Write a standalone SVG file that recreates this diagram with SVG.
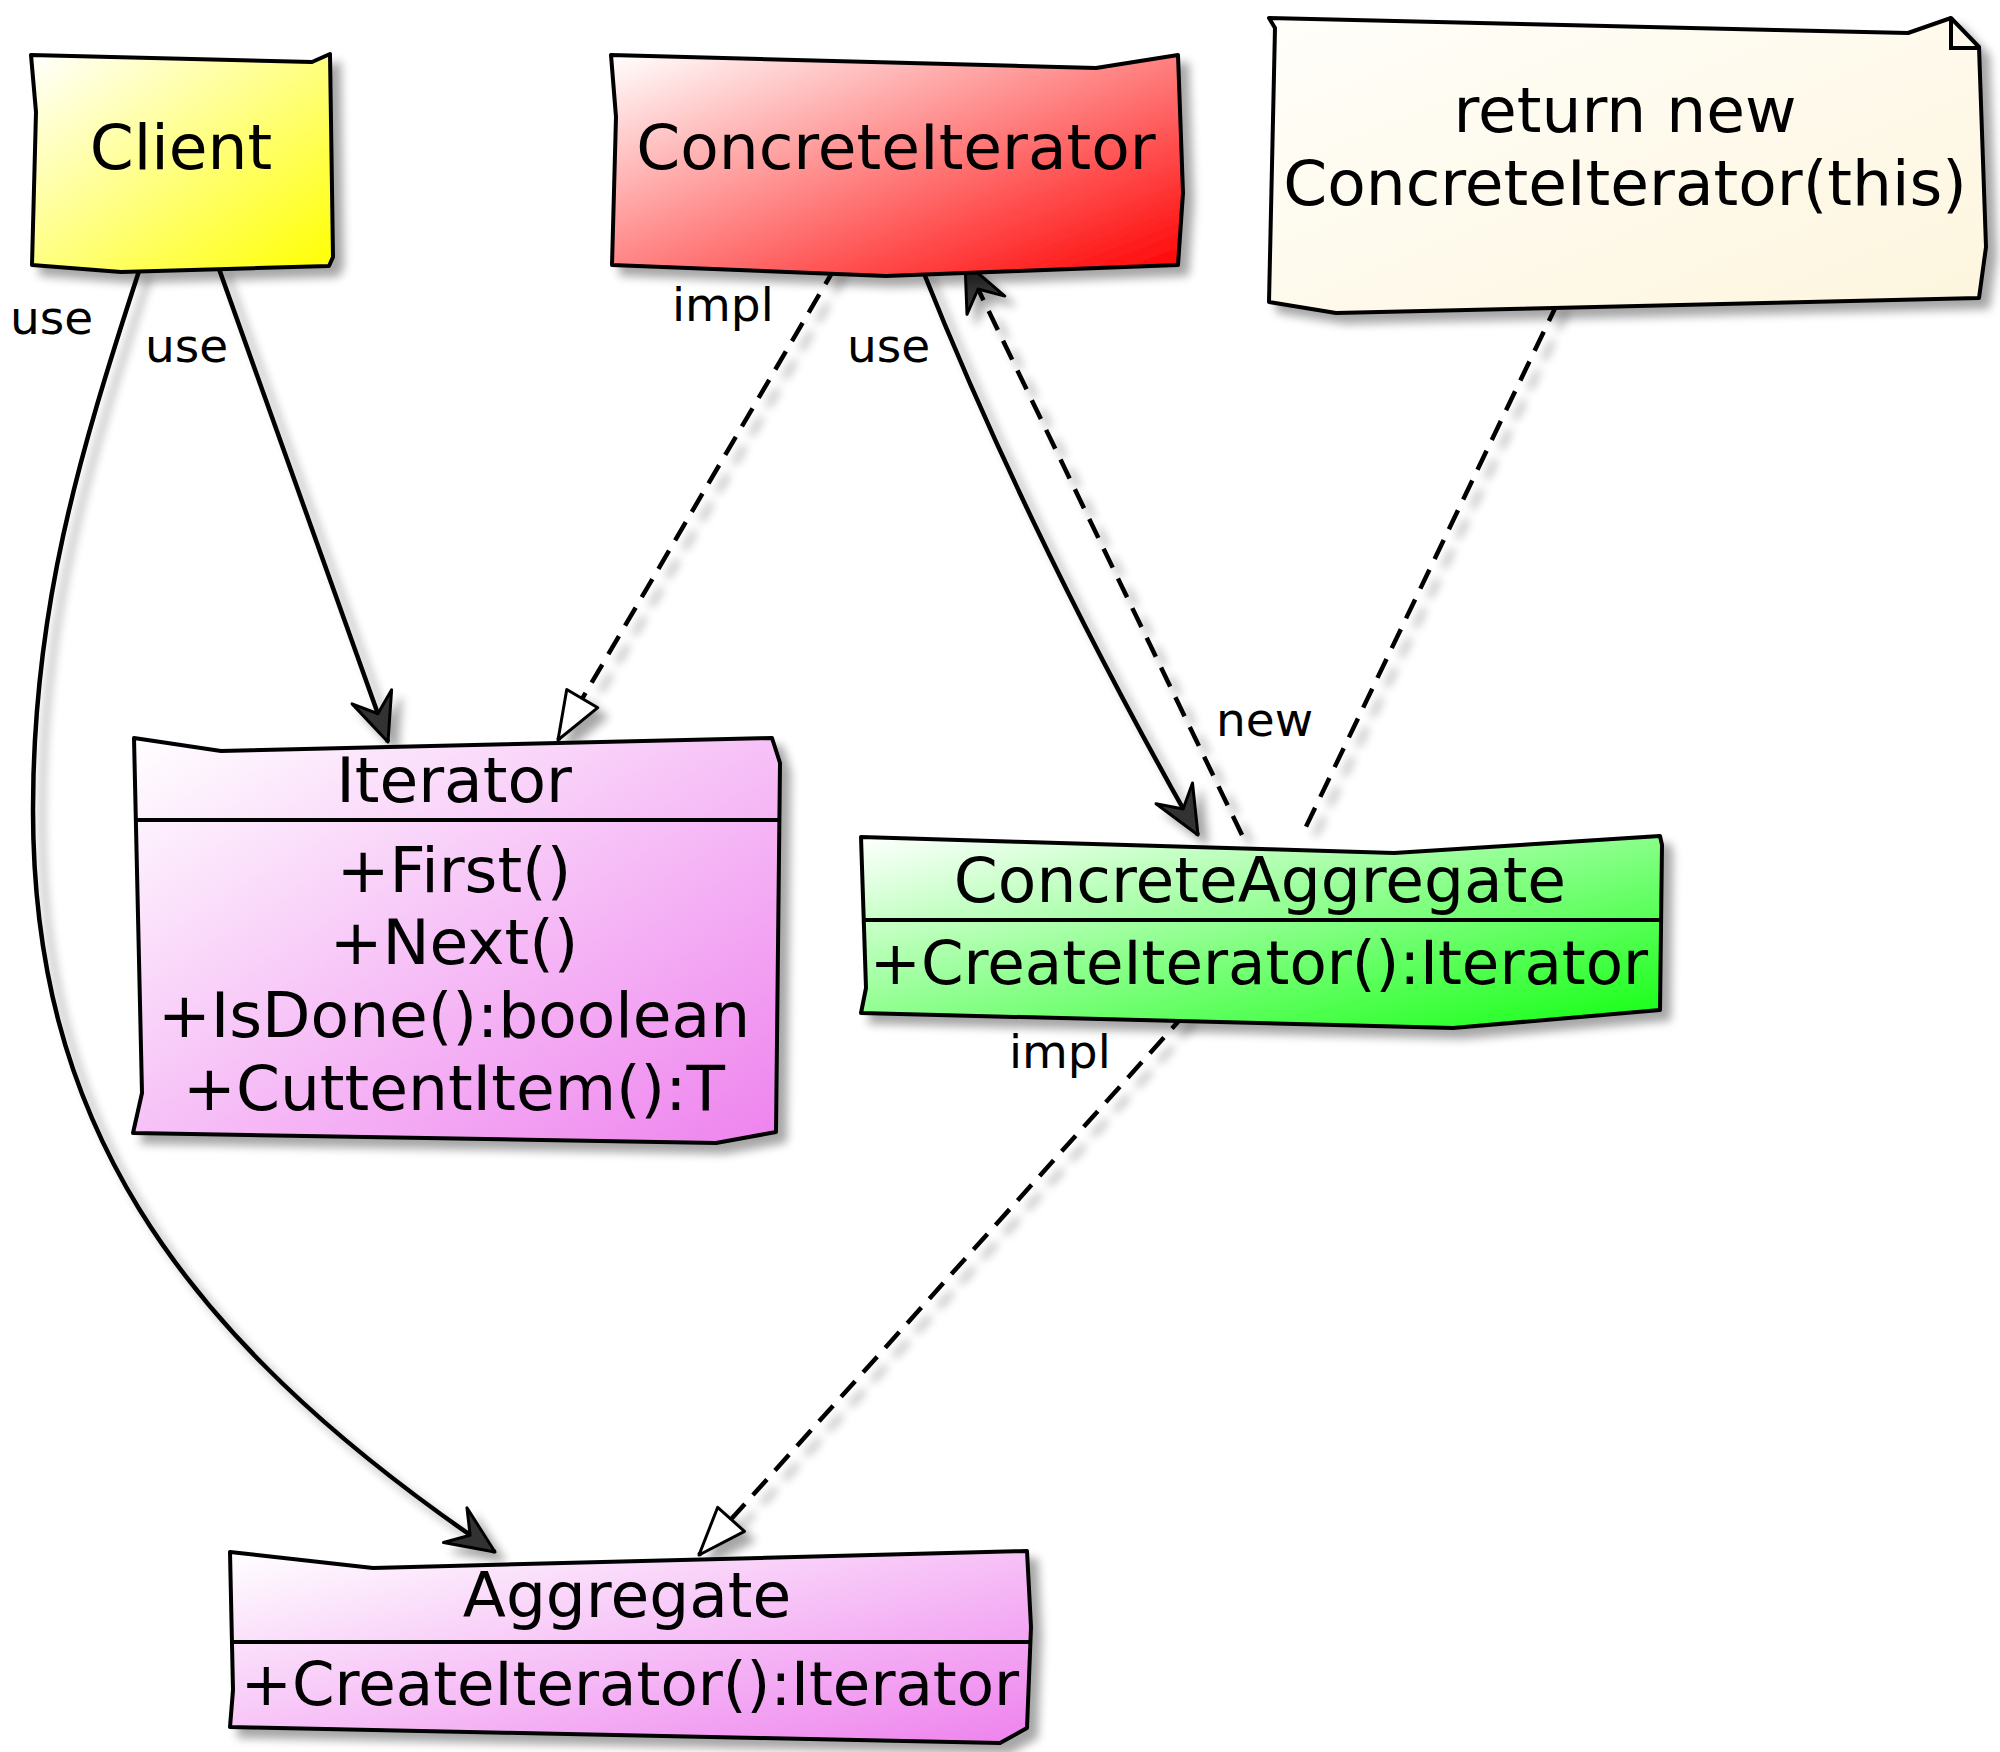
<svg xmlns="http://www.w3.org/2000/svg" width="2000" height="1752" viewBox="0 0 2000 1752">
<style>
text{font-family:"DejaVu Sans","Liberation Sans",sans-serif;fill:#000}
.t{font-size:63px;text-anchor:middle}
.m{font-size:61px;text-anchor:middle}
.lbl{font-size:47px}
.box{stroke:#000;stroke-width:4;stroke-linejoin:round}
.div{stroke:#000;stroke-width:4;fill:none}
.ln{fill:none;stroke:#000;stroke-width:4.5}
.dash{stroke-dasharray:21 12}
</style>
<defs>
<filter id="sh" filterUnits="userSpaceOnUse" x="0" y="0" width="2000" height="1752">
<feGaussianBlur in="SourceAlpha" stdDeviation="5"/>
<feOffset dx="9" dy="9"/>
<feComponentTransfer><feFuncA type="linear" slope="0.35"/></feComponentTransfer>
<feMerge><feMergeNode/><feMergeNode in="SourceGraphic"/></feMerge>
</filter>
<linearGradient id="gY" x1="0" y1="0" x2="1" y2="1"><stop offset="0" stop-color="#ffffff"/><stop offset="1" stop-color="#ffff00"/></linearGradient>
<linearGradient id="gR" x1="0" y1="0" x2="1" y2="1"><stop offset="0" stop-color="#ffffff"/><stop offset="1" stop-color="#ff0000"/></linearGradient>
<linearGradient id="gN" x1="0" y1="0" x2="1" y2="1"><stop offset="0" stop-color="#fffefa"/><stop offset="1" stop-color="#fdf5dd"/></linearGradient>
<linearGradient id="gV" x1="0" y1="0" x2="1" y2="1"><stop offset="0" stop-color="#ffffff"/><stop offset="1" stop-color="#ee82ee"/></linearGradient>
<linearGradient id="gG" x1="0" y1="0" x2="1" y2="1"><stop offset="0" stop-color="#ffffff"/><stop offset="1" stop-color="#11ff11"/></linearGradient>
<marker id="arr" markerUnits="userSpaceOnUse" orient="auto" markerWidth="120" markerHeight="120" viewBox="-60 -60 120 120" refX="0" refY="0" overflow="visible">
<path d="M0,0 L-48,-21 L-30,0 L-48,21 Z" fill="#333" stroke="#000" stroke-width="3" stroke-linejoin="round"/>
</marker>
<marker id="tri" markerUnits="userSpaceOnUse" orient="auto" markerWidth="120" markerHeight="120" viewBox="-60 -60 120 120" refX="0" refY="0" overflow="visible">
<path d="M0,0 L-48,-18 L-48,18 Z" fill="#fff" stroke="#000" stroke-width="3" stroke-linejoin="round"/>
</marker>
</defs>
<rect width="2000" height="1752" fill="#fff"/>

<g id="connectors" filter="url(#sh)">
<path id="c-client-iterator" class="ln" d="M218,266 L388,742" marker-end="url(#arr)"/>
<path id="c-client-aggregate" class="ln" d="M140,268 C78,458 33,610 33,810 C33,1110 163,1328 495,1552" marker-end="url(#arr)"/>
<path id="c-ci-iterator" class="ln dash" d="M836,266 L558,740" marker-end="url(#tri)"/>
<path id="c-ci-ca" class="ln" d="M921,266 Q1030,540 1198,835" marker-end="url(#arr)"/>
<path id="c-ca-ci" class="ln dash" d="M1242,835 L965,262" marker-end="url(#arr)"/>
<path id="c-note-ca" class="ln dash" d="M1558,302 L1302,835"/>
<path id="c-ca-aggregate" class="ln dash" d="M1186,1013 L699,1555" marker-end="url(#tri)"/>
</g>
<g id="labels">
<text class="lbl" x="10" y="334">use</text>
<text class="lbl" x="145" y="362">use</text>
<text class="lbl" x="672" y="321">impl</text>
<text class="lbl" x="847" y="362">use</text>
<text class="lbl" x="1216" y="736">new</text>
<text class="lbl" x="1009" y="1068">impl</text>
</g>

<g id="client">
<path class="box" fill="url(#gY)" filter="url(#sh)" d="M31,55 L312,62 L330,54 L333,257 L329,266 L121,272 L32,265 L36,112 Z"/>
<text class="t" x="181" y="169">Client</text>
</g>

<g id="concrete-iterator">
<path class="box" fill="url(#gR)" filter="url(#sh)" d="M611,55 L1096,68 L1178,55 L1183,193 L1178,265 L886,276 L612,265 L616,117 Z"/>
<text class="t" x="896" y="169">ConcreteIterator</text>
</g>

<g id="note">
<path class="box" fill="url(#gN)" filter="url(#sh)" d="M1269,18 L1908,33 L1951,18 L1979,47 L1986,247 L1979,298 L1336,313 L1269,302 L1275,28 Z"/>
<polyline class="div" points="1951,18 1951,48 1979,48"/>
<text class="t" x="1625" y="132">return new</text>
<text class="t" x="1625" y="205">ConcreteIterator(this)</text>
</g>

<g id="iterator">
<path class="box" fill="url(#gV)" filter="url(#sh)" d="M134,738 L221,751 L772,738 L780,763 L776,1132 L716,1143 L133,1133 L142,1093 Z"/>
<line class="div" x1="136" y1="820" x2="778" y2="820"/>
<text class="t" x="454" y="802">Iterator</text>
<text class="t" x="454" y="892">+First()</text>
<text class="t" x="454" y="964">+Next()</text>
<text class="t" x="454" y="1037">+IsDone():boolean</text>
<text class="t" x="454" y="1110">+CuttentItem():T</text>
</g>

<g id="concrete-aggregate">
<path class="box" fill="url(#gG)" filter="url(#sh)" d="M861,837 L1394,853 L1660,836 L1662,845 L1660,1010 L1453,1028 L861,1013 L866,988 Z"/>
<line class="div" x1="862" y1="920" x2="1661" y2="920"/>
<text class="t" x="1260" y="902">ConcreteAggregate</text>
<text class="m" x="1259" y="984">+CreateIterator():Iterator</text>
</g>

<g id="aggregate">
<path class="box" fill="url(#gV)" filter="url(#sh)" d="M230,1552 L373,1568 L1027,1551 L1031,1627 L1027,1728 L1000,1743 L230,1727 L233,1690 Z"/>
<line class="div" x1="231" y1="1642" x2="1029" y2="1642"/>
<text class="t" x="627" y="1617">Aggregate</text>
<text class="m" x="630" y="1705">+CreateIterator():Iterator</text>
</g>
</svg>
